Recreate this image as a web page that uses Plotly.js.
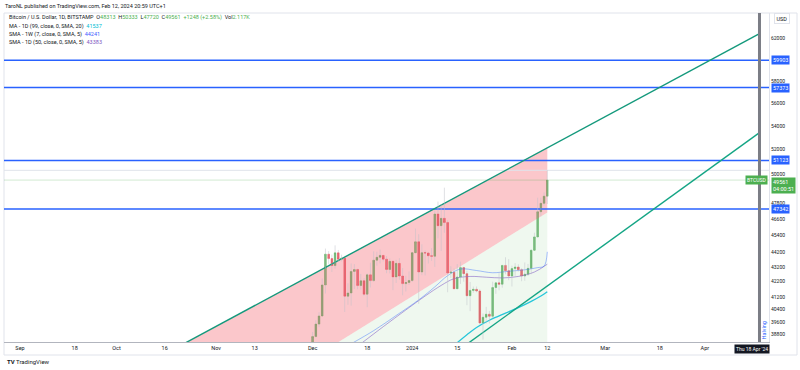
<!DOCTYPE html>
<html><head><meta charset="utf-8">
<script src="https://cdn.plot.ly/plotly-3.0.1.min.js"></script>
<style>html,body{margin:0;padding:0;background:#fff;}#chart{width:800px;height:370px;}</style>
</head><body><div id="chart"></div>
<script>
// ---------- data ----------
const dates = [
 "2023-12-01","2023-12-02","2023-12-03","2023-12-04","2023-12-05","2023-12-06","2023-12-07","2023-12-08","2023-12-09","2023-12-10",
 "2023-12-11","2023-12-12","2023-12-13","2023-12-14","2023-12-15","2023-12-16","2023-12-17","2023-12-18","2023-12-19","2023-12-20",
 "2023-12-21","2023-12-22","2023-12-23","2023-12-24","2023-12-25","2023-12-26","2023-12-27","2023-12-28","2023-12-29","2023-12-30",
 "2023-12-31","2024-01-01","2024-01-02","2024-01-03","2024-01-04","2024-01-05","2024-01-06","2024-01-07","2024-01-08","2024-01-09",
 "2024-01-10","2024-01-11","2024-01-12","2024-01-13","2024-01-14","2024-01-15","2024-01-16","2024-01-17","2024-01-18","2024-01-19",
 "2024-01-20","2024-01-21","2024-01-22","2024-01-23","2024-01-24","2024-01-25","2024-01-26","2024-01-27","2024-01-28","2024-01-29",
 "2024-01-30","2024-01-31","2024-02-01","2024-02-02","2024-02-03","2024-02-04","2024-02-05","2024-02-06","2024-02-07","2024-02-08",
 "2024-02-09","2024-02-10","2024-02-11","2024-02-12"];
const opens = [
 37720,38690,39460,39970,41980,44080,43770,43290,44170,43720,
 43790,41240,41450,42890,43020,41940,42260,41370,42660,42270,
 43660,43860,43990,43730,43020,43580,42520,43440,42580,42070,
 42140,42280,44180,44950,42850,44180,44160,43970,43930,46970,
 46110,46650,46340,42780,42840,41730,42510,43150,42740,41270,
 41620,41690,41580,39530,39890,40080,39950,41810,42120,42030,
 43300,42940,42580,43080,43190,43010,42580,42700,43100,44350,
 45300,47140,47770,48313];
const highs = [
 38970,39700,40200,42410,44470,44290,44050,44700,44370,44040,
 43800,42090,43430,43390,43080,42720,42430,42750,43480,44280,
 44240,44400,44000,43950,43780,43610,43680,43800,43120,42590,
 42890,44210,45900,45500,44770,44330,44230,44500,47220,47900,
 47700,48970,46500,43250,43090,43390,43560,43200,42930,42180,
 41870,41880,41690,40130,40550,40290,42200,42180,42840,43320,
 43860,43730,43280,43460,43380,43110,43500,43400,44400,45600,
 48200,48200,48600,50333];
const lows = [
 37640,38650,39270,39970,41420,43370,42850,43090,43580,43580,
 40220,40680,40630,41710,41700,41670,41260,40530,41820,42210,
 43280,43430,43580,42770,42760,41640,42110,42330,41300,41550,
 41980,42180,44180,40750,42640,42620,43430,43610,43200,45200,
 44300,45600,41500,42450,41720,41720,42050,42200,40660,40280,
 41470,41500,39450,38500,39500,39500,39820,41400,41630,41800,
 42700,42300,41880,42590,42880,42230,42260,42580,42700,44350,
 45250,46800,47600,47720];
const closes = [
 38690,39460,39970,41980,44080,43770,43290,44170,43720,43790,
 41240,41450,42890,43020,41940,42260,41370,42660,42270,43660,
 43860,43990,43730,43020,43580,42520,43440,42580,42070,42140,
 42280,44180,44950,42850,44180,44160,43970,43930,46970,46110,
 46650,46340,42780,42840,41730,42510,43150,42740,41270,41620,
 41690,41580,39530,39890,40080,39950,41810,42120,42030,43300,
 42940,42580,43080,43190,43010,42580,42700,43100,44350,45300,
 47140,47770,48313,49561];
const volumeText = "2.117K";

// moving averages
const maCyanDates = ["2024-01-14","2024-01-18","2024-01-21","2024-01-25","2024-01-30","2024-02-03","2024-02-07","2024-02-10","2024-02-12"];
const maCyanVals  = [38150,38800,39250,39700,40150,40500,40900,41250,41537];
const sma1wDates = ["2023-12-13","2023-12-20","2023-12-27","2024-01-03","2024-01-08","2024-01-12","2024-01-16","2024-01-21","2024-01-26","2024-01-31","2024-02-05","2024-02-09","2024-02-11","2024-02-12"];
const sma1wVals  = [38250,39050,40000,41000,41850,42600,43050,42950,42800,42900,43000,43150,43250,44241];
const sma50Dates = ["2023-12-16","2023-12-23","2023-12-30","2024-01-05","2024-01-10","2024-01-14","2024-01-19","2024-01-24","2024-01-29","2024-02-03","2024-02-08","2024-02-12"];
const sma50Vals  = [38250,39300,40350,41250,41950,42400,42550,42500,42450,42550,42850,43383];

// drawings
const upperTrendDates = ["2023-10-14 13:00","2024-04-18"];
const upperTrendVals  = [37480,62500];
const lowerTrendDates = ["2024-01-09 14:00","2024-04-18"];
const lowerTrendVals  = [37060,53430];
const redZoneDates = ["2023-10-14 13:00","2024-02-12","2024-02-12","2023-11-27 02:00"];
const redZoneVals  = [37480,52180,47090,36930];
const greenZoneDates = ["2023-11-27 02:00","2024-02-12","2024-02-12"];
const greenZoneVals  = [36930,47090,36000];
const hLevels = [59903,57373,51123,47342];
const highLine = 50333;
const halvingDate = "2024-04-18";

// axes
const xRange = ["2023-08-27 00:35","2024-04-20 23:00"];
const yRange = [38356,64566];
const dateTicks = ["2023-09-01","2023-09-18","2023-10-01","2023-10-16","2023-11-01","2023-11-13","2023-12-01","2023-12-18","2024-01-01","2024-01-15","2024-02-01","2024-02-12","2024-03-01","2024-03-18","2024-04-01"];
const dateTickLabels = ["Sep","18","Oct","16","Nov","13","Dec","18","2024","15","Feb","12","Mar","18","Apr"];
const priceTicks = [62000,58000,56000,54000,52000,50000,47800,46600,45400,44200,43200,42200,41200,40400,39600,38800];

// ---------- traces ----------
const FONT = 'Roboto, "Liberation Sans", sans-serif';
const GREEN = '#4caf50', RED = '#f23645', BLUE = '#2962ff';
const traces = [];

traces.push({type:'scatter', mode:'lines', x:redZoneDates, y:redZoneVals, fill:'toself',
  fillcolor:'rgba(242,54,69,0.28)', line:{width:0}, hoverinfo:'skip'});
traces.push({type:'scatter', mode:'lines', x:greenZoneDates, y:greenZoneVals, fill:'toself',
  fillcolor:'rgba(76,175,80,0.09)', line:{width:0}, hoverinfo:'skip'});

// horizontal levels
hLevels.forEach(v => traces.push({type:'scatter', mode:'lines', x:xRange, y:[v,v],
  line:{color:BLUE, width:1.5}, hoverinfo:'skip'}));
traces.push({type:'scatter', mode:'lines', x:xRange, y:[highLine,highLine], line:{color:'#e0e3eb', width:1}, hoverinfo:'skip'});
const lastClose = closes[closes.length-1];
traces.push({type:'scatter', mode:'lines', x:xRange, y:[lastClose,lastClose], line:{color:'rgba(76,175,80,0.25)', width:1}, hoverinfo:'skip'});

// moving averages
traces.push({type:'scatter', mode:'lines', x:sma50Dates, y:sma50Vals, line:{color:'rgba(126,87,194,0.55)', width:1, shape:'spline'}, hoverinfo:'skip'});
traces.push({type:'scatter', mode:'lines', x:sma1wDates, y:sma1wVals, line:{color:'rgba(41,98,255,0.4)', width:1, shape:'spline'}, hoverinfo:'skip'});
traces.push({type:'scatter', mode:'lines', x:maCyanDates, y:maCyanVals, line:{color:'#26c6da', width:1.3, shape:'spline'}, hoverinfo:'skip'});

// trend lines
traces.push({type:'scatter', mode:'lines', x:upperTrendDates, y:upperTrendVals, line:{color:'#14997c', width:1.4}, hoverinfo:'skip'});
traces.push({type:'scatter', mode:'lines', x:lowerTrendDates, y:lowerTrendVals, line:{color:'#14a585', width:1.4}, hoverinfo:'skip'});

// wicks
const wx = [], wy = [];
dates.forEach((d,i) => { wx.push(d,d,null); wy.push(lows[i],highs[i],null); });
traces.push({type:'scatter', mode:'lines', x:wx, y:wy, line:{color:'rgba(190,192,200,0.6)', width:0.8}, hoverinfo:'skip'});

// bodies
traces.push({type:'candlestick', x:dates, open:opens, close:closes,
  high:opens.map((o,i)=>Math.max(o,closes[i])), low:opens.map((o,i)=>Math.min(o,closes[i])),
  increasing:{line:{color:GREEN, width:0.5}, fillcolor:GREEN},
  decreasing:{line:{color:RED, width:0.5}, fillcolor:RED},
  whiskerwidth:0, width:0.62*86400000, hoverinfo:'skip'});

// ---------- annotations ----------
const px = v => (v-4)/765;          // pixel -> paper x
const py = v => (342-v)/329;        // pixel -> paper y
const n = dates.length;
const O = opens[n-1], H = highs[n-1], L = lows[n-1], C = closes[n-1], prevC = closes[n-2];
const chg = C - prevC, pct = (chg/prevC*100).toFixed(2);
const g = s => `<span style="color:${GREEN}">${s}</span>`;
const ann = [];
const txt = (x,y,text,extra) => ann.push(Object.assign({xref:'paper', yref:'paper', x:px(x), y:py(y), xanchor:'left', yanchor:'middle',
  text:text, showarrow:false, font:{family:FONT, size:5.5, color:'#131722'}}, extra||{}));

txt(3,6,'TaroNL published on TradingView.com, Feb 12, 2024 20:59 UTC+1');
txt(7,17,`Bitcoin / U.S. Dollar, 1D, BITSTAMP  O${g(O)}  H${g(H)}  L${g(L)}  C${g(C)}  ${g('+'+chg+' (+'+pct+'%)')}  Vol${g(volumeText)}`);
txt(7,26.5,`MA - 1D (99, close, 0, SMA, 20)  <span style="color:#00bcd4">${maCyanVals[maCyanVals.length-1]}</span>`);
txt(7,35,`SMA - 1W (7, close, 0, SMA, 5)  <span style="color:#3d5afe">${sma1wVals[sma1wVals.length-1]}</span>`);
txt(7,43,`SMA - 1D (50, close, 0, SMA, 5)  <span style="color:#7e57c2">${sma50Vals[sma50Vals.length-1]}</span>`);
txt(5,362,'<b>TV</b> TradingView', {font:{family:FONT, size:6, color:'#131722'}});

// price axis boxes
hLevels.forEach(v => ann.push({xref:'paper', yref:'y', x:px(771), y:Math.log10(v), xanchor:'left', yanchor:'middle',
  text:String(v), showarrow:false, bgcolor:BLUE, borderpad:1, font:{family:FONT, size:5.5, color:'#ffffff'}}));
ann.push({xref:'paper', yref:'y', x:px(771), y:Math.log10(C), yshift:3, xanchor:'left', yanchor:'top',
  text:`${C}<br>04:00:51`, showarrow:false, bgcolor:GREEN, borderpad:1, align:'left', font:{family:FONT, size:5.5, color:'#ffffff'}});
ann.push({xref:'paper', yref:'y', x:px(767.5), y:Math.log10(C), xanchor:'right', yanchor:'middle',
  text:'BTCUSD', showarrow:false, bgcolor:GREEN, borderpad:1, font:{family:FONT, size:5, color:'#ffffff'}});
ann.push({xref:'paper', yref:'paper', x:px(782), y:py(19), xanchor:'center', yanchor:'middle',
  text:'USD', showarrow:false, bgcolor:'#ffffff', bordercolor:'#e0e3eb', borderwidth:1, borderpad:1.5, font:{family:FONT, size:5.5, color:'#131722'}});
ann.push({xref:'x', yref:'paper', x:halvingDate, xshift:5, y:py(330), xanchor:'center', yanchor:'middle', textangle:-90,
  text:'Halving', showarrow:false, font:{family:FONT, size:5.5, color:BLUE}});
ann.push({xref:'paper', yref:'paper', x:px(769.5), y:py(348.5), xanchor:'right', yanchor:'middle',
  text:"Thu 18 Apr '24", showarrow:false, bgcolor:'#131722', borderpad:1, font:{family:FONT, size:5, color:'#ffffff'}});

const shapes = [
  {type:'line', xref:'x', yref:'paper', x0:halvingDate, x1:halvingDate, y0:0, y1:1, line:{color:'#7b7d85', width:3}},
  {type:'rect', xref:'paper', yref:'paper', x0:0, x1:px(797), y0:py(355), y1:1, line:{color:'#e0e3eb', width:1}, layer:'below'}
];

const layout = {
  width:800, height:370,
  margin:{l:4, r:31, t:13, b:28, pad:0},
  paper_bgcolor:'#ffffff', plot_bgcolor:'#ffffff',
  showlegend:false,
  font:{family:FONT, size:5.5, color:'#131722'},
  xaxis:{type:'date', range:xRange, tickvals:dateTicks, ticktext:dateTickLabels, tickangle:0,
    showgrid:false, zeroline:false, showline:true, linecolor:'#b2b5be', linewidth:1, ticks:'',
    tickfont:{family:FONT, size:5.5, color:'#131722'}, rangeslider:{visible:false}, fixedrange:true},
  yaxis:{type:'log', side:'right', range:[Math.log10(yRange[0]), Math.log10(yRange[1])],
    tickvals:priceTicks, ticktext:priceTicks.map(String), showgrid:false, zeroline:false,
    showline:true, linecolor:'#e0e3eb', ticks:'', tickfont:{family:FONT, size:5, color:'#131722'}, fixedrange:true},
  shapes:shapes, annotations:ann, hovermode:false
};

Plotly.newPlot('chart', traces, layout, {displayModeBar:false, staticPlot:true});
</script></body></html>
